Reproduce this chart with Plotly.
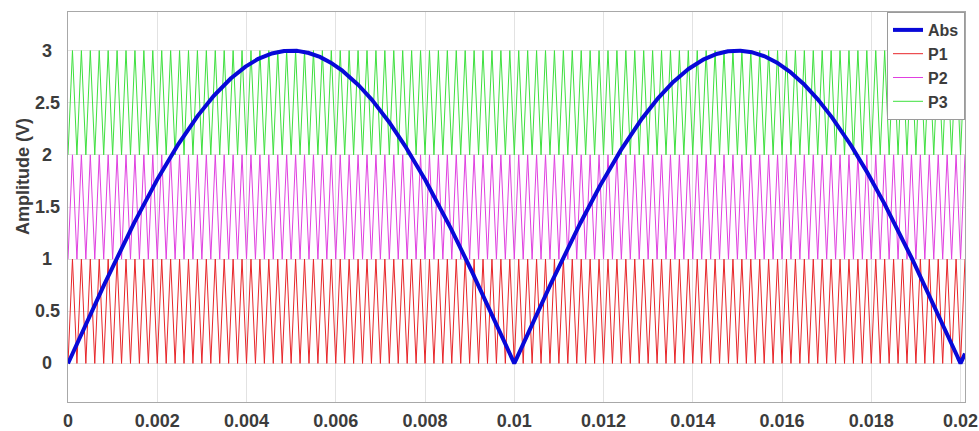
import numpy as np
import plotly.graph_objects as go

# Reference signal: rectified sine |A sin(2*pi*f*t)|
ref_amplitude = 3.0        # V
ref_freq = 50.0            # Hz
t_end = 0.0201             # s, right edge of the time window

# Triangular carriers (phase disposition, all in phase), one per voltage band
carrier_freq = 5000.0      # Hz
carrier_names = ["P1", "P2", "P3"]
carrier_low = [0.0, 1.0, 2.0]
carrier_high = [1.0, 2.0, 3.0]
carrier_colors = ["#e8262a", "#e040e0", "#3fe03f"]

# Axis ticks
x_ticks = [0, 0.002, 0.004, 0.006, 0.008, 0.01, 0.012, 0.014, 0.016, 0.018, 0.02]
x_tick_labels = ["0", "0.002", "0.004", "0.006", "0.008", "0.01",
                 "0.012", "0.014", "0.016", "0.018", "0.02"]
y_ticks = [0, 0.5, 1, 1.5, 2, 2.5, 3]
y_tick_labels = ["0", "0.5", "1", "1.5", "2", "2.5", "3"]

FONT = "Liberation Sans, Arial, sans-serif"
TXT = "#3c3c3c"

W, H = 979, 431
ml, mr, mt, mb = 68, 14, 12, 29
pw, ph = W - ml - mr, H - mt - mb

fig = go.Figure()

# carrier vertices at every half period
half = 0.5 / carrier_freq
n_half = int(np.ceil(t_end / half))
tv = np.arange(n_half + 1) * half
phase = (np.arange(n_half + 1) % 2).astype(float)  # 0 at valleys, 1 at peaks

for name, lo, hi, col in zip(carrier_names, carrier_low, carrier_high, carrier_colors):
    fig.add_trace(go.Scatter(
        x=tv, y=lo + (hi - lo) * phase, mode="lines", name=name,
        line=dict(color=col, width=1), legendrank=2,
    ))

t = np.linspace(0, t_end, 2401)
abs_ref = np.abs(ref_amplitude * np.sin(2 * np.pi * ref_freq * t))
fig.add_trace(go.Scatter(
    x=t, y=abs_ref, mode="lines", name="Abs",
    line=dict(color="#0808d8", width=4), legendrank=1,
))

# y tick labels, centred under each other
for v, s in zip(y_ticks, y_tick_labels):
    fig.add_annotation(x=(47 - ml) / pw, xref="paper", y=v, yref="y", text=s,
                       showarrow=False, xanchor="center", yanchor="middle",
                       font=dict(family=FONT, size=18, color=TXT, weight="bold"))

fig.add_annotation(x=(23 - ml) / pw, xref="paper", y=(H - mb - 177) / ph, yref="paper",
                   text="Amplitude (V)", showarrow=False, textangle=-90,
                   xanchor="center", yanchor="middle",
                   font=dict(family=FONT, size=18, color=TXT, weight="bold"))

fig.update_layout(
    width=W, height=H,
    margin=dict(l=ml, r=mr, t=mt, b=mb, autoexpand=False),
    paper_bgcolor="white", plot_bgcolor="white",
    showlegend=True,
    legend=dict(x=1, y=1, xanchor="right", yanchor="top",
                bgcolor="white", bordercolor="#9a9a9a", borderwidth=1,
                font=dict(family=FONT, size=16, color=TXT, weight="bold"),
                tracegroupgap=0, itemwidth=30),
    xaxis=dict(range=[0, t_end], tickvals=x_ticks, ticktext=x_tick_labels,
               automargin=False,
               showgrid=True, gridcolor="#e2e2e2", gridwidth=1,
               zeroline=False, showline=True, linecolor="#a8a8a8", linewidth=1,
               mirror=True, ticks="", ticklabelstandoff=2,
               tickfont=dict(family=FONT, size=18, color=TXT, weight="bold")),
    yaxis=dict(range=[-0.37, 3.37], tickvals=y_ticks, showticklabels=False,
               automargin=False,
               showgrid=True, gridcolor="#e2e2e2", gridwidth=1,
               zeroline=False, showline=True, linecolor="#a8a8a8", linewidth=1,
               mirror=True, ticks=""),
)

fig.write_html("out.html")
